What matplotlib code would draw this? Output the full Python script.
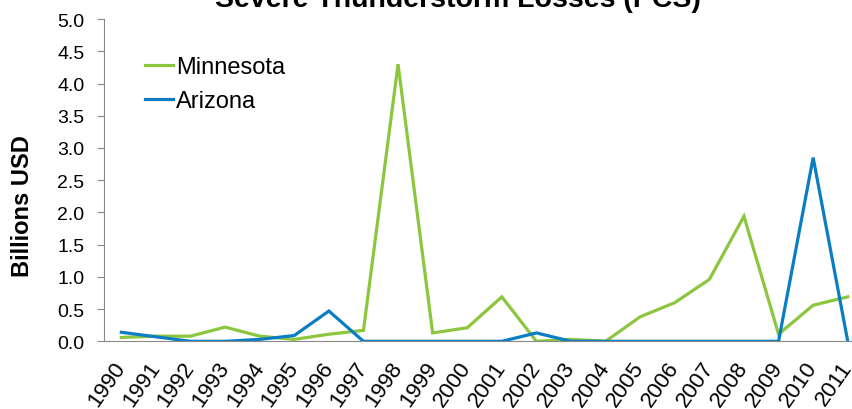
import matplotlib
matplotlib.use('Agg')
import matplotlib.pyplot as plt
import numpy as np

plt.rcParams['font.family'] = ['Liberation Sans', 'DejaVu Sans']

# Severe thunderstorm losses, billions USD
years = [str(y) for y in range(1990, 2012)]
minnesota = [0.06, 0.08, 0.08, 0.22, 0.08, 0.03, 0.11, 0.17, 4.30, 0.13, 0.21,
             0.69, 0.00, 0.03, 0.00, 0.38, 0.60, 0.96, 1.94, 0.11, 0.56, 0.69]
arizona = [0.14, 0.07, 0.00, 0.00, 0.03, 0.09, 0.47, 0.00, 0.00, 0.00, 0.00,
           0.00, 0.13, 0.00, 0.00, 0.00, 0.00, 0.00, 0.00, 0.00, 2.85, 0.00]
yticks = np.arange(0, 5.01, 0.5)

green = '#8CC63F'
blue = '#0B7DC3'
grey = '#898989'

fig = plt.figure(figsize=(8.52, 4.10), dpi=100)
ax = fig.add_axes([0.1221, 0.1651, 0.8932, 0.786])  # x0, y0, w, h

x = np.arange(len(years))
ax.plot(x, minnesota, color=green, lw=2.3, label='Minnesota', solid_joinstyle='miter')
ax.plot(x, arizona, color=blue, lw=2.3, label='Arizona', solid_joinstyle='miter')

# -- xs
ax.set_xlim(-0.5, len(years) - 0.5)
ax.set_xticks(x)
ax.set_xticklabels(years, rotation=55, ha='right', va='center',
                   rotation_mode='anchor', fontsize=16)
ax.tick_params(axis='x', length=0, pad=16)
# -- ys
ax.set_ylim(0, 5)
ax.set_yticks(yticks)
ax.set_yticklabels(['%.1f' % v for v in yticks], fontsize=14)
ax.tick_params(axis='y', length=5, width=0.8, color=grey, pad=9)

for side in ['top', 'right']:
    ax.spines[side].set_visible(False)
for side in ['left', 'bottom']:
    ax.spines[side].set_color(grey)
    ax.spines[side].set_linewidth(0.8)

fig.text(23 / 852, 1 - 206 / 410, 'Billions USD', rotation=90, ha='center',
         va='center', fontsize=17, fontweight='bold')
fig.text(458 / 852, 1 - 7 / 410, 'Severe Thunderstorm Losses (PCS)', ha='center',
         va='baseline', fontsize=20.5, fontweight='bold')

ax.legend(loc='upper left', bbox_to_anchor=(145 / 852, 1 - 57 / 410),
          bbox_transform=fig.transFigure, frameon=False, fontsize=17,
          handlelength=1.2, handletextpad=0.1, labelspacing=0.5, borderpad=0,
          borderaxespad=0)

fig.savefig('out.png', dpi=100)
